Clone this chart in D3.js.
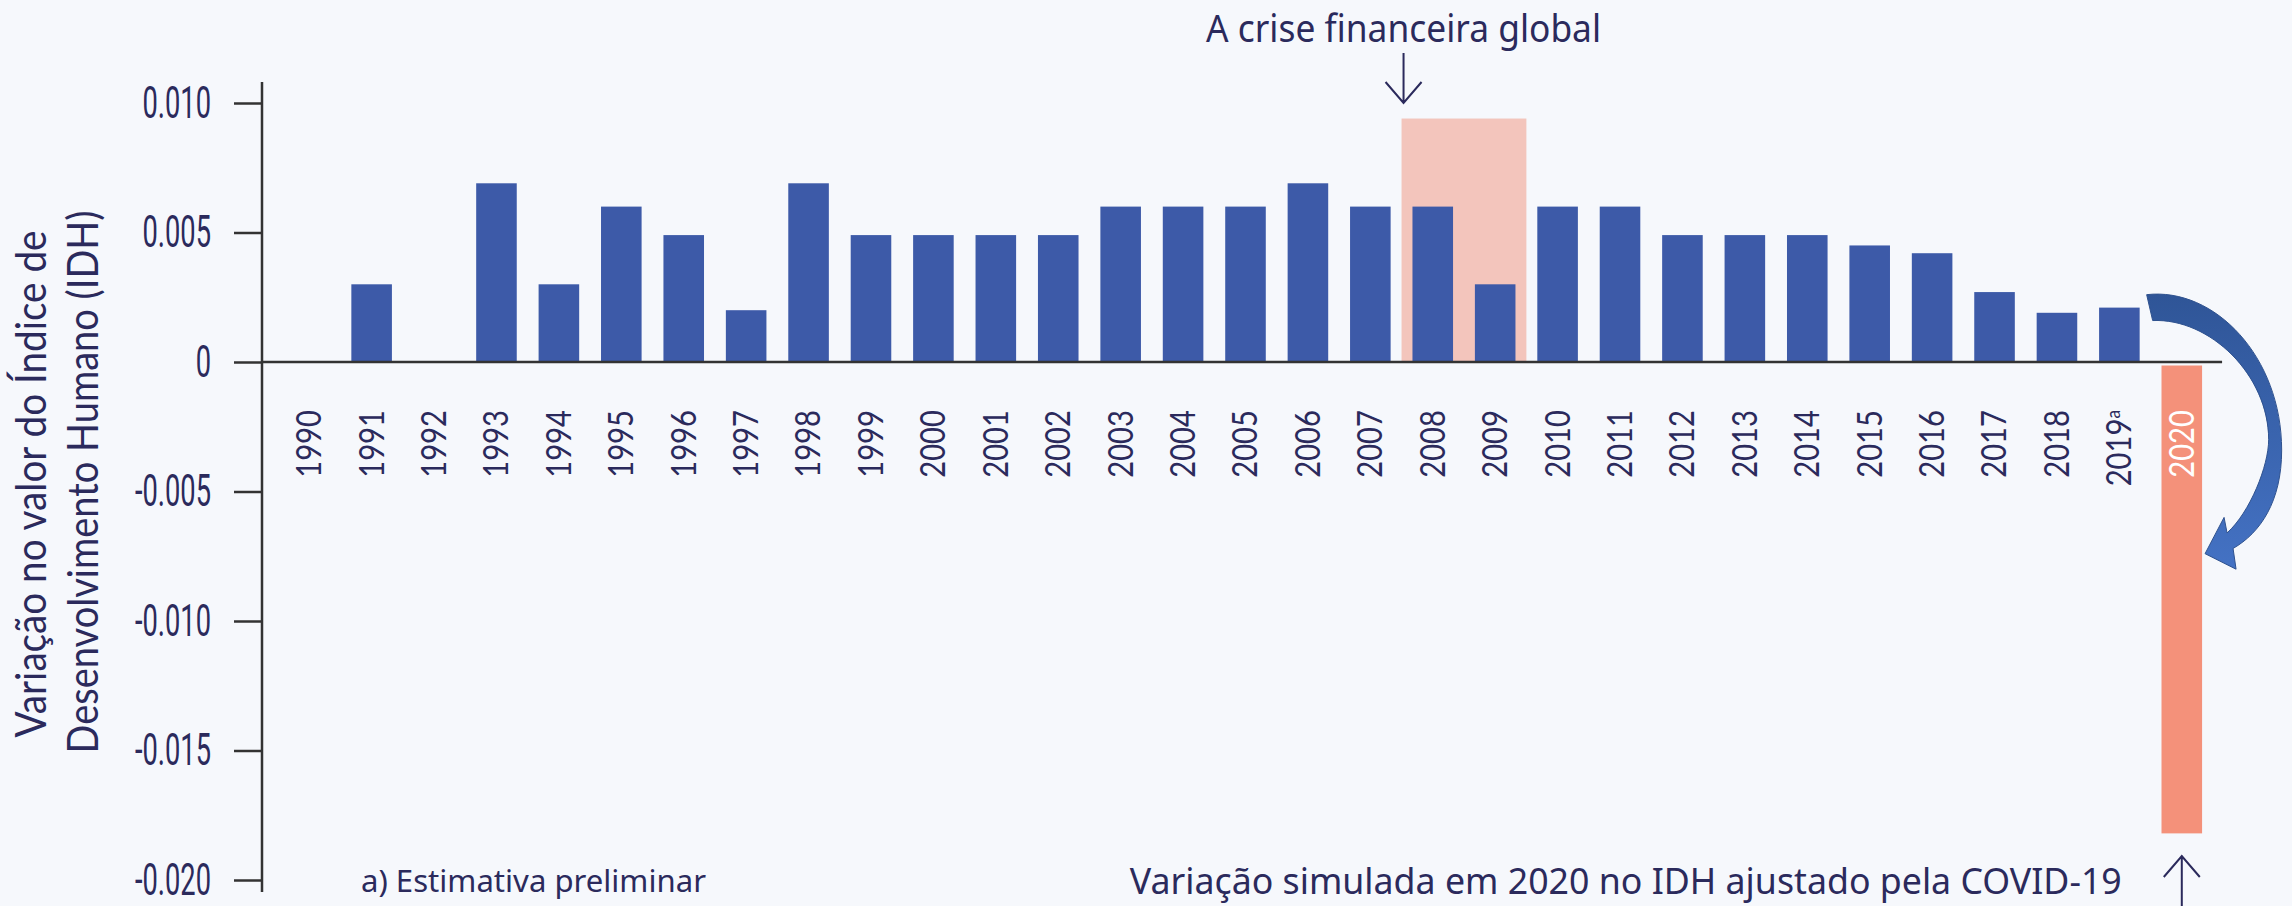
<!DOCTYPE html>
<html>
<head>
<meta charset="utf-8">
<script src="https://cdn.jsdelivr.net/npm/d3@7"></script>
<style>
  body { margin: 0; background: #f6f8fc; }
  svg { display: block; }
</style>
</head>
<body>
<script>
// change in HDI value per year (2019 preliminary, 2020 simulated covid)
var years = ["1990", "1991", "1992", "1993", "1994", "1995", "1996", "1997", "1998", "1999",
             "2000", "2001", "2002", "2003", "2004", "2005", "2006", "2007", "2008", "2009",
             "2010", "2011", "2012", "2013", "2014", "2015", "2016", "2017", "2018", "2019", "2020"];
var hdiChange = [0, 0.0030, 0, 0.0069, 0.0030, 0.0060, 0.0049, 0.0020, 0.0069, 0.0049,
                 0.0049, 0.0049, 0.0049, 0.0060, 0.0060, 0.0060, 0.0069, 0.0060, 0.0060, 0.0030,
                 0.0060, 0.0060, 0.0049, 0.0049, 0.0049, 0.0045, 0.0042, 0.0027, 0.0019, 0.0021, -0.0182];
var yTicks = [0.010, 0.005, 0, -0.005, -0.010, -0.015, -0.020];
var yTickLabels = ["0.010", "0.005", "0", "-0.005", "-0.010", "-0.015", "-0.020"];
var crisisYears = ["2008", "2009"];
var crisisTop = 0.0094;
var covidYear = "2020";
var prelimYear = "2019";

var width = 2292, height = 906;
var ink = "#2b2a5c";

var svg = d3.select("body").append("svg")
    .attr("width", width)
    .attr("height", height);

svg.append("rect")
    .attr("width", width)
    .attr("height", height)
    .attr("fill", "#f6f8fc");

var x = d3.scaleBand()
    .domain(years)
    .range([278, 2213])
    .paddingInner(0.35)
    .paddingOuter(0.175);
var bw = x.bandwidth();
var gap = (x.step() - bw) / 2;

var y = d3.scaleLinear()
    .domain([-0.02, 0.01])
    .range([880, 103]);

var data = years.map(function(d, i) { return {year: d, value: hdiChange[i]}; });

// financial crisis highlight
svg.append("rect")
    .attr("x", x(crisisYears[0]) - gap)
    .attr("y", y(crisisTop))
    .attr("width", x(crisisYears[1]) + bw + gap - (x(crisisYears[0]) - gap))
    .attr("height", y(0) - y(crisisTop))
    .attr("fill", "#f3c5bc");

// bars
svg.append("g").selectAll("rect")
    .data(data.filter(function(d) { return d.value !== 0; }))
    .enter().append("rect")
    .attr("x", function(d) { return x(d.year); })
    .attr("width", bw)
    .attr("y", function(d) { return d.value > 0 ? y(d.value) : y(0) + 3.5; })
    .attr("height", function(d) { return d.value > 0 ? y(0) - y(d.value) : y(d.value) - y(0) - 3.5; })
    .attr("fill", function(d) { return d.year === covidYear ? "#f4917a" : "#3d5aa8"; });

// y axis
var yAxis = d3.axisLeft(y)
    .tickValues(yTicks)
    .tickFormat(function(d, i) { return yTickLabels[i]; })
    .tickSize(28)
    .tickPadding(23);
var sx = 0.62;
var gy = svg.append("g")
    .attr("transform", "translate(262,0)")
    .call(yAxis);
gy.select(".domain").remove();
gy.selectAll(".tick line").attr("stroke", "#333").attr("stroke-width", 2.5);
gy.selectAll(".tick text")
    .attr("font-family", "Roboto, sans-serif")
    .attr("font-size", 44)
    .attr("fill", ink)
    .attr("x", -51 / sx)
    .attr("transform", "scale(" + sx + ",1)");

svg.append("line")
    .attr("x1", 262).attr("x2", 262)
    .attr("y1", 82).attr("y2", 892)
    .attr("stroke", "#333").attr("stroke-width", 2.5);

// zero line
svg.append("line")
    .attr("x1", 262).attr("x2", x(covidYear) + bw + 20)
    .attr("y1", y(0)).attr("y2", y(0))
    .attr("stroke", "#333").attr("stroke-width", 2.5);

// year labels (rotated)
var labels = svg.append("g").selectAll("text")
    .data(years)
    .enter().append("text")
    .attr("transform", function(d) {
        return "translate(" + (x(d) + bw / 2) + ",410) rotate(-90) scale(0.86,1)";
    })
    .attr("dy", "0.35em")
    .attr("text-anchor", "end")
    .attr("font-family", "Lato, sans-serif")
    .attr("font-size", 34)
    .attr("fill", function(d) { return d === covidYear ? "#ffffff" : ink; })
    .text(function(d) { return d; });
labels.filter(function(d) { return d === prelimYear; })
    .append("tspan")
    .attr("font-size", 20)
    .attr("dy", "-0.55em")
    .text("a");

// y axis title
var ytitle = ["Variação no valor do Índice de", "Desenvolvimento Humano (IDH)"];
var ytLen = [507, 543];
var ytMid = [484, 482];
var ytX = [46, 98];
ytitle.forEach(function(t, i) {
    svg.append("text")
        .attr("transform", "translate(" + ytX[i] + "," + ytMid[i] + ") rotate(-90)")
        .attr("text-anchor", "middle")
        .attr("font-family", "Lato, sans-serif")
        .attr("font-size", 42)
        .attr("fill", ink)
        .attr("textLength", ytLen[i])
        .attr("lengthAdjust", "spacingAndGlyphs")
        .text(t);
});

// crisis annotation
var cx = x(crisisYears[0]) - gap + 2;
svg.append("text")
    .attr("x", cx).attr("y", 42)
    .attr("text-anchor", "middle")
    .attr("font-family", "'Noto Sans', sans-serif")
    .attr("font-size", 38)
    .attr("fill", ink)
    .attr("textLength", 395)
    .attr("lengthAdjust", "spacingAndGlyphs")
    .text("A crise financeira global");

function thinArrow(px, yFrom, yTip) {
    var dir = yTip > yFrom ? -1 : 1;
    var p = d3.path();
    p.moveTo(px, yFrom); p.lineTo(px, yTip);
    p.moveTo(px - 18, yTip + dir * 21); p.lineTo(px, yTip); p.lineTo(px + 18, yTip + dir * 21);
    svg.append("path")
        .attr("d", p.toString())
        .attr("fill", "none")
        .attr("stroke", ink)
        .attr("stroke-width", 2);
}
thinArrow(cx, 53, 103);

// covid annotation
var c20 = x(covidYear) + bw / 2;
thinArrow(c20, 906, 856);
svg.append("text")
    .attr("x", c20 - 60).attr("y", 894)
    .attr("text-anchor", "end")
    .attr("font-family", "'Noto Sans', sans-serif")
    .attr("font-size", 37)
    .attr("fill", ink)
    .attr("textLength", 992)
    .attr("lengthAdjust", "spacingAndGlyphs")
    .text("Variação simulada em 2020 no IDH ajustado pela COVID-19");

svg.append("text")
    .attr("x", 361).attr("y", 892)
    .attr("font-family", "'Noto Sans', sans-serif")
    .attr("font-size", 31)
    .attr("fill", ink)
    .attr("textLength", 345)
    .attr("lengthAdjust", "spacingAndGlyphs")
    .text("a) Estimativa preliminar");

// curved arrow from 2019 to 2020
var defs = svg.append("defs");
var grad = defs.append("linearGradient")
    .attr("id", "arrowGrad")
    .attr("x1", 0).attr("y1", 0).attr("x2", 0).attr("y2", 1);
grad.append("stop").attr("offset", "0%").attr("stop-color", "#2f5597");
grad.append("stop").attr("offset", "100%").attr("stop-color", "#4472c4");

var ax = x(prelimYear) + bw;      // right edge of 2019 bar
var tipX = x(covidYear) + bw + 3; // right edge of 2020 bar
var tipY = y(-0.0074);
var ap = d3.path();
ap.moveTo(ax + 7, y(0.0026));
ap.bezierCurveTo(ax + 75, y(0.0029), ax + 142, y(0.0002), ax + 142, y(-0.0034));
ap.bezierCurveTo(ax + 142, y(-0.0054), tipX + 55, y(-0.0066), tipX + 28, y(-0.0072));
ap.lineTo(tipX + 31, y(-0.0080));
ap.lineTo(tipX, tipY);
ap.lineTo(tipX + 19, y(-0.0060));
ap.lineTo(tipX + 22, y(-0.0066));
ap.bezierCurveTo(tipX + 45, y(-0.0058), ax + 129, y(-0.0040), ax + 129, y(-0.0030));
ap.bezierCurveTo(ax + 129, y(-0.0005), ax + 70, y(0.0017), ax + 13, y(0.0016));
ap.closePath();
svg.append("path")
    .attr("d", ap.toString())
    .attr("fill", "url(#arrowGrad)")
    .attr("stroke", "#2f528f")
    .attr("stroke-width", 1);
</script>
</body>
</html>
